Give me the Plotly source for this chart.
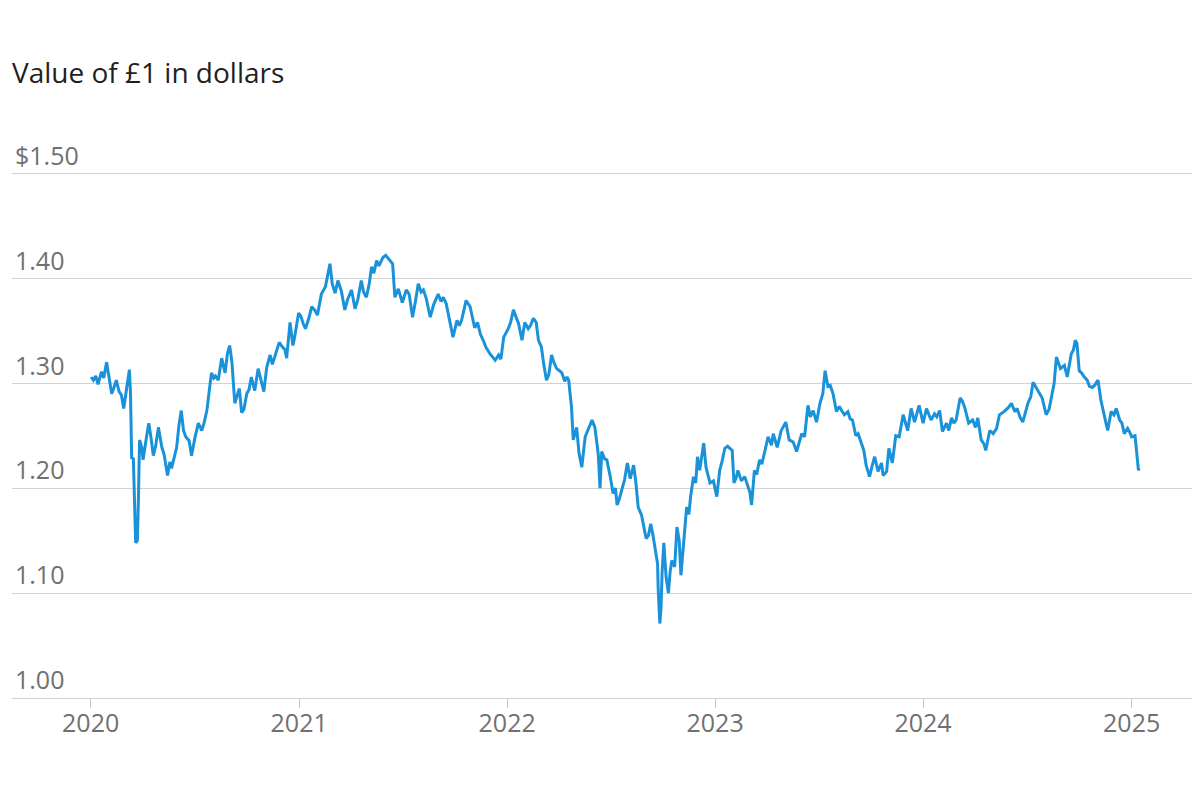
import plotly.graph_objects as go

dates = [
"2020-01-02","2020-01-06","2020-01-10","2020-01-14","2020-01-20","2020-01-24","2020-01-29","2020-02-03","2020-02-07","2020-02-11",
"2020-02-15","2020-02-20","2020-02-24","2020-02-28","2020-03-04","2020-03-09","2020-03-11","2020-03-12","2020-03-13","2020-03-16",
"2020-03-17","2020-03-18","2020-03-19","2020-03-20","2020-03-23","2020-03-24","2020-03-25","2020-03-26","2020-03-27","2020-03-31",
"2020-04-02","2020-04-07","2020-04-12","2020-04-16","2020-04-20","2020-04-24","2020-04-29","2020-05-05","2020-05-09","2020-05-15",
"2020-05-19","2020-05-22","2020-05-27","2020-05-31","2020-06-04","2020-06-08","2020-06-12","2020-06-16","2020-06-22","2020-06-26",
"2020-07-02","2020-07-08","2020-07-14","2020-07-18","2020-07-23","2020-07-28","2020-07-31","2020-08-04","2020-08-07","2020-08-12",
"2020-08-18","2020-08-24","2020-08-28","2020-09-01","2020-09-05","2020-09-10","2020-09-15","2020-09-18","2020-09-22","2020-09-26",
"2020-10-01","2020-10-05","2020-10-09","2020-10-15","2020-10-21","2020-10-26","2020-10-31","2020-11-05","2020-11-11","2020-11-15",
"2020-11-19","2020-11-23","2020-11-27","2020-12-02","2020-12-07","2020-12-10","2020-12-16","2020-12-21","2020-12-24","2020-12-31",
"2021-01-04","2021-01-08","2021-01-12","2021-01-18","2021-01-23","2021-01-28","2021-02-02","2021-02-09","2021-02-16","2021-02-19",
"2021-02-24","2021-02-28","2021-03-05","2021-03-10","2021-03-16","2021-03-22","2021-03-27","2021-04-03","2021-04-09","2021-04-14",
"2021-04-20","2021-04-24","2021-04-29","2021-05-04","2021-05-08","2021-05-12","2021-05-17","2021-05-21","2021-05-28","2021-06-02",
"2021-06-09","2021-06-14","2021-06-18","2021-06-24","2021-07-01","2021-07-08","2021-07-13","2021-07-19","2021-07-24","2021-07-29",
"2021-08-03","2021-08-07","2021-08-12","2021-08-19","2021-08-25","2021-09-02","2021-09-07","2021-09-11","2021-09-16","2021-09-20",
"2021-09-28","2021-10-05","2021-10-09","2021-10-13","2021-10-21","2021-10-28","2021-11-05","2021-11-10","2021-11-15","2021-11-20",
"2021-11-25","2021-12-02","2021-12-07","2021-12-11","2021-12-17","2021-12-21","2021-12-26",
"2022-01-03","2022-01-07","2022-01-12","2022-01-16","2022-01-21","2022-01-27","2022-02-01","2022-02-07","2022-02-11","2022-02-16",
"2022-02-21","2022-02-25","2022-03-02","2022-03-06","2022-03-11","2022-03-15","2022-03-20","2022-03-24","2022-03-29","2022-04-03",
"2022-04-07","2022-04-12","2022-04-16","2022-04-19","2022-04-24","2022-04-27","2022-05-03","2022-05-07","2022-05-12","2022-05-18",
"2022-05-23","2022-05-30","2022-06-04","2022-06-07","2022-06-10","2022-06-13","2022-06-16","2022-06-21","2022-06-25","2022-07-01",
"2022-07-06","2022-07-10","2022-07-13","2022-07-17","2022-07-21","2022-07-26","2022-07-31","2022-08-05","2022-08-11","2022-08-15",
"2022-08-19","2022-08-25","2022-08-30","2022-09-02","2022-09-06","2022-09-10","2022-09-14","2022-09-17","2022-09-22","2022-09-23",
"2022-09-26","2022-09-28","2022-09-30","2022-10-03","2022-10-07","2022-10-11","2022-10-14","2022-10-17","2022-10-22","2022-10-26",
"2022-10-30","2022-11-02","2022-11-07","2022-11-12","2022-11-16","2022-11-19","2022-11-24","2022-11-28","2022-12-01","2022-12-05",
"2022-12-09","2022-12-12","2022-12-16","2022-12-20","2022-12-23","2022-12-29",
"2023-01-04","2023-01-09","2023-01-13","2023-01-18","2023-01-23","2023-01-27","2023-01-31","2023-02-03","2023-02-07","2023-02-10",
"2023-02-16","2023-02-22","2023-02-28","2023-03-03","2023-03-06","2023-03-11","2023-03-15","2023-03-20","2023-03-24","2023-03-29",
"2023-04-04","2023-04-10","2023-04-13","2023-04-20","2023-04-27","2023-05-05","2023-05-11","2023-05-18","2023-05-24","2023-06-02",
"2023-06-07","2023-06-13","2023-06-17","2023-06-22","2023-06-28","2023-07-04","2023-07-09","2023-07-13","2023-07-18","2023-07-22",
"2023-07-27","2023-08-02","2023-08-07","2023-08-11","2023-08-16","2023-08-22","2023-08-26","2023-08-30","2023-09-05","2023-09-09",
"2023-09-13","2023-09-19","2023-09-23","2023-09-29","2023-10-03","2023-10-08","2023-10-14","2023-10-20","2023-10-23","2023-10-29",
"2023-11-02","2023-11-08","2023-11-14","2023-11-20","2023-11-27","2023-12-01","2023-12-05","2023-12-11","2023-12-17","2023-12-25",
"2024-01-01","2024-01-07","2024-01-11","2024-01-15","2024-01-21","2024-01-25","2024-01-30","2024-02-04","2024-02-11","2024-02-15",
"2024-02-20","2024-02-24","2024-02-28","2024-03-06","2024-03-10","2024-03-14","2024-03-21","2024-03-28","2024-04-02","2024-04-06",
"2024-04-12","2024-04-17","2024-04-20","2024-04-27","2024-05-03","2024-05-09","2024-05-14","2024-05-22","2024-05-30","2024-06-04",
"2024-06-10","2024-06-14","2024-06-19","2024-06-24","2024-07-03","2024-07-08","2024-07-12","2024-07-16","2024-07-21","2024-07-28",
"2024-08-04","2024-08-09","2024-08-13","2024-08-18","2024-08-22","2024-08-29","2024-09-05","2024-09-10","2024-09-17","2024-09-21",
"2024-09-24","2024-09-27","2024-10-01","2024-10-05","2024-10-10","2024-10-15","2024-10-19","2024-10-24","2024-10-28","2024-11-03",
"2024-11-08","2024-11-14","2024-11-17","2024-11-20","2024-11-26","2024-12-01","2024-12-05","2024-12-11","2024-12-15","2024-12-19",
"2024-12-25","2024-12-29","2025-01-01","2025-01-07","2025-01-10","2025-01-13","2025-01-14",
]

usd_per_gbp = [
1.306,1.303,1.307,1.299,1.311,1.305,1.320,1.302,1.290,1.296,
1.303,1.292,1.289,1.276,1.295,1.313,1.290,1.255,1.229,1.228,
1.200,1.168,1.152,1.148,1.150,1.165,1.192,1.222,1.246,1.238,
1.227,1.245,1.262,1.248,1.231,1.240,1.258,1.239,1.232,1.212,
1.225,1.219,1.232,1.239,1.260,1.274,1.255,1.249,1.245,1.231,
1.248,1.262,1.255,1.262,1.274,1.298,1.310,1.305,1.307,1.303,
1.324,1.310,1.328,1.336,1.320,1.281,1.290,1.295,1.272,1.275,
1.290,1.294,1.306,1.293,1.314,1.302,1.292,1.315,1.327,1.318,
1.325,1.330,1.339,1.335,1.332,1.324,1.358,1.336,1.344,1.367,
1.364,1.357,1.352,1.362,1.373,1.370,1.365,1.385,1.392,1.400,
1.414,1.395,1.386,1.398,1.388,1.370,1.380,1.389,1.371,1.380,
1.398,1.387,1.382,1.395,1.411,1.405,1.417,1.412,1.420,1.422,
1.417,1.414,1.382,1.390,1.377,1.389,1.385,1.363,1.378,1.395,
1.387,1.389,1.381,1.363,1.375,1.385,1.378,1.382,1.376,1.365,
1.344,1.360,1.355,1.360,1.379,1.373,1.353,1.358,1.347,1.341,
1.334,1.328,1.324,1.322,1.327,1.323,1.344,
1.352,1.358,1.370,1.364,1.357,1.341,1.358,1.352,1.355,1.362,
1.358,1.341,1.335,1.319,1.303,1.308,1.327,1.320,1.314,1.312,
1.310,1.302,1.306,1.303,1.277,1.246,1.258,1.234,1.220,1.249,
1.255,1.265,1.258,1.246,1.232,1.200,1.235,1.228,1.227,1.211,
1.195,1.200,1.184,1.190,1.198,1.208,1.224,1.209,1.222,1.205,
1.182,1.174,1.160,1.152,1.155,1.166,1.155,1.144,1.128,1.105,
1.071,1.085,1.120,1.148,1.115,1.100,1.120,1.131,1.125,1.163,
1.150,1.117,1.150,1.182,1.175,1.192,1.211,1.205,1.230,1.217,
1.232,1.243,1.220,1.211,1.205,1.207,
1.192,1.217,1.225,1.238,1.240,1.238,1.236,1.205,1.210,1.217,
1.207,1.211,1.202,1.196,1.184,1.217,1.213,1.227,1.223,1.236,
1.249,1.241,1.252,1.239,1.255,1.263,1.246,1.244,1.235,1.252,
1.249,1.279,1.268,1.274,1.263,1.281,1.290,1.312,1.297,1.298,
1.290,1.273,1.278,1.274,1.270,1.273,1.266,1.265,1.250,1.252,
1.246,1.236,1.222,1.211,1.220,1.230,1.216,1.224,1.212,1.216,
1.238,1.224,1.250,1.249,1.270,1.262,1.255,1.276,1.263,1.279,
1.262,1.276,1.270,1.265,1.271,1.268,1.274,1.254,1.262,1.255,
1.267,1.262,1.265,1.286,1.283,1.277,1.262,1.265,1.258,1.267,
1.246,1.242,1.236,1.255,1.252,1.257,1.270,1.273,1.277,1.281,
1.273,1.276,1.268,1.263,1.281,1.287,1.301,1.297,1.292,1.286,
1.270,1.275,1.286,1.300,1.325,1.314,1.317,1.306,1.328,1.332,
1.341,1.338,1.312,1.310,1.306,1.303,1.297,1.296,1.298,1.303,
1.284,1.267,1.262,1.255,1.273,1.270,1.276,1.265,1.262,1.252,
1.257,1.253,1.249,1.250,1.232,1.217,1.219,
]

y_tick_values = [1.0, 1.1, 1.2, 1.3, 1.4, 1.5]
y_tick_labels = ["1.00", "1.10", "1.20", "1.30", "1.40", "$1.50"]
x_tick_values = ["2020-01-01", "2021-01-01", "2022-01-01", "2023-01-01", "2024-01-01", "2025-01-01"]
x_tick_labels = ["2020", "2021", "2022", "2023", "2024", "2025"]

FONT = "Open Sans"
GRID = "#d2d2d2"
LABEL = "#707070"

fig = go.Figure()
fig.add_trace(go.Scatter(
    x=dates, y=usd_per_gbp, mode="lines",
    line=dict(color="#1a92d9", width=3),
    hoverinfo="skip", showlegend=False,
))

# the page body has an 8px margin, so the figure is smaller and margins compensate
fig.update_layout(
    width=1192, height=784,
    paper_bgcolor="white", plot_bgcolor="white",
    margin=dict(l=4, r=0, t=112, b=94, pad=0),
    font=dict(family=FONT, color=LABEL),
    title=dict(
        text="Value of £1 in dollars",
        font=dict(family=FONT, size=28, color="#1f1f1f"),
        x=4 / 1192, xref="container", xanchor="left",
        y=1 - 65 / 784, yref="container", yanchor="middle",
    ),
    xaxis=dict(
        type="date",
        range=["2019-08-16", "2025-05-01"],
        tickvals=x_tick_values, ticktext=x_tick_labels,
        ticks="outside", ticklen=9, tickwidth=1, tickcolor="#c8c8c8",
        ticklabelstandoff=-6,
        showgrid=False, zeroline=False,
        showline=True, linecolor=GRID, linewidth=1,
        tickfont=dict(family=FONT, size=25, color=LABEL),
        fixedrange=True,
    ),
    yaxis=dict(
        range=[1.0, 1.551],
        tickvals=y_tick_values, ticktext=y_tick_labels,
        ticklabelposition="inside top",
        ticks="", showgrid=True, gridcolor=GRID, gridwidth=1,
        zeroline=False, showline=False,
        tickfont=dict(family=FONT, size=25, color=LABEL),
        fixedrange=True,
    ),
)

fig.write_html("out.html")
